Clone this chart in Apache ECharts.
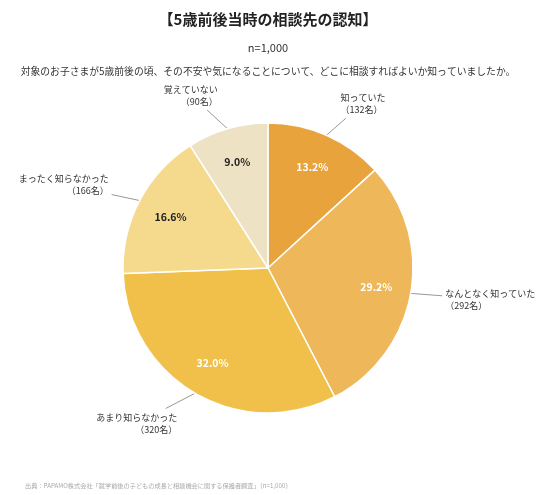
<!DOCTYPE html>
<html>
<head>
<meta charset="utf-8">
<script src="https://cdn.jsdelivr.net/npm/echarts@6/dist/echarts.min.js"></script>
<style>
  html, body { margin: 0; padding: 0; background: #fff; }
  #chart { width: 536px; height: 495px; }
</style>
</head>
<body>
<div id="chart"></div>
<script>
// 回答カテゴリ・人数・割合
const categories = ['知っていた', 'なんとなく知っていた', 'あまり知らなかった', 'まったく知らなかった', '覚えていない']
const counts = [132, 292, 320, 166, 90]
const percents = ['13.2%', '29.2%', '32.0%', '16.6%', '9.0%']
const colors = ['#E8A33C', '#EDB75A', '#F0C04A', '#F5DA8E', '#EDE2C4']
const pctColors = ['#fff', '#fff', '#fff', '#222', '#222']

const FONT = '"Noto Sans CJK JP", "Noto Sans", sans-serif'
const CENTER = [268, 268]
const R = 145
// ラベルの内側端までの距離（扇形の縁から）と、引き出し線とラベルの隙間
const LABEL_GAP = 35
const LINE_PAD = 3

const chart = echarts.init(document.getElementById('chart'), null, { renderer: 'canvas' })

const mainData = categories.map((name, i) => ({
  name,
  value: counts[i],
  itemStyle: { color: colors[i] },
}))

// 内側の％ラベル用（透明な重ねシリーズ）：ラベル位置は (r0 + r) / 2
const pctData = categories.map((name, i) => ({
  name,
  value: counts[i],
  label: { color: pctColors[i] },
}))

// 外側ラベル：中心角方向の少し外にテキストを置き、
// 引き出し線は縁の点からラベル中心へ向かう直線（ラベル手前で止める）
function excelLikeLabelLayout(params) {
  const pts = params.labelLinePoints
  if (!pts) return
  const p0 = pts[0]
  let dx = p0[0] - CENTER[0]
  let dy = p0[1] - CENTER[1]
  const len = Math.sqrt(dx * dx + dy * dy) || 1
  dx /= len
  dy /= len
  const w = params.labelRect.width
  const h = params.labelRect.height
  const left = dx < 0
  const ax = CENTER[0] + (R + LABEL_GAP) * dx
  const ay = CENTER[1] + (R + LABEL_GAP) * dy
  const x0 = (left ? ax - w : ax) - LINE_PAD
  const x1 = (left ? ax : ax + w) + LINE_PAD
  const y0 = ay - h / 2 - LINE_PAD
  const y1 = ay + h / 2 + LINE_PAD
  const c = [left ? ax - w / 2 : ax + w / 2, ay]
  const vx = c[0] - p0[0]
  const vy = c[1] - p0[1]
  // スラブ法で箱への進入点を求める
  let tEnter = 0
  if (Math.abs(vx) > 1e-6) {
    const ta = (x0 - p0[0]) / vx
    const tb = (x1 - p0[0]) / vx
    tEnter = Math.max(tEnter, Math.min(ta, tb))
  }
  if (Math.abs(vy) > 1e-6) {
    const ta = (y0 - p0[1]) / vy
    const tb = (y1 - p0[1]) / vy
    tEnter = Math.max(tEnter, Math.min(ta, tb))
  }
  const end = [p0[0] + vx * tEnter, p0[1] + vy * tEnter]
  return {
    x: ax,
    y: ay,
    align: left ? 'right' : 'left',
    verticalAlign: 'middle',
    labelLinePoints: [p0, end, end],
  }
}

chart.setOption({
  backgroundColor: '#fff',
  textStyle: { fontFamily: FONT },
  title: [
    {
      text: '【5歳前後当時の相談先の認知】',
      left: 'center', top: 7,
      textStyle: { fontSize: 15, fontWeight: 'bold', color: '#222', fontFamily: FONT },
    },
    {
      text: 'n=1,000',
      left: 'center', top: 37,
      textStyle: { fontSize: 11, fontWeight: 'normal', color: '#333', fontFamily: FONT },
    },
    {
      text: '対象のお子さまが5歳前後の頃、その不安や気になることについて、どこに相談すればよいか知っていましたか。',
      left: 'center', top: 61,
      textStyle: { fontSize: 9.8, fontWeight: 'normal', color: '#333', fontFamily: FONT },
    },
    {
      text: '出典：PAPAMO株式会社「就学前後の子どもの成長と相談機会に関する保護者調査」（n=1,000）',
      left: 20, top: 478,
      textStyle: { fontSize: 6.2, fontWeight: 'normal', color: '#aaa', fontFamily: FONT },
    },
  ],
  series: [
    {
      type: 'pie',
      center: CENTER,
      radius: R,
      startAngle: 90,
      clockwise: true,
      animation: false,
      silent: true,
      itemStyle: { borderColor: '#fff', borderWidth: 1.5 },
      label: {
        show: true,
        position: 'outside',
        overflow: 'none',
        fontSize: 9,
        lineHeight: 12,
        color: '#333',
        fontFamily: FONT,
        formatter: (p) => p.name + '\n（' + p.value + '名）',
      },
      labelLine: {
        show: true,
        length: LABEL_GAP,
        length2: 0,
        lineStyle: { color: '#999', width: 1 },
      },
      labelLayout: excelLikeLabelLayout,
      data: mainData,
    },
    {
      type: 'pie',
      center: CENTER,
      radius: [69, R],
      startAngle: 90,
      clockwise: true,
      animation: false,
      silent: true,
      itemStyle: { color: 'transparent' },
      label: {
        show: true,
        position: 'inside',
        fontSize: 10.5,
        fontWeight: 'bold',
        fontFamily: FONT,
        formatter: (p) => percents[p.dataIndex],
      },
      labelLine: { show: false },
      data: pctData,
    },
  ],
})
</script>
</body>
</html>
